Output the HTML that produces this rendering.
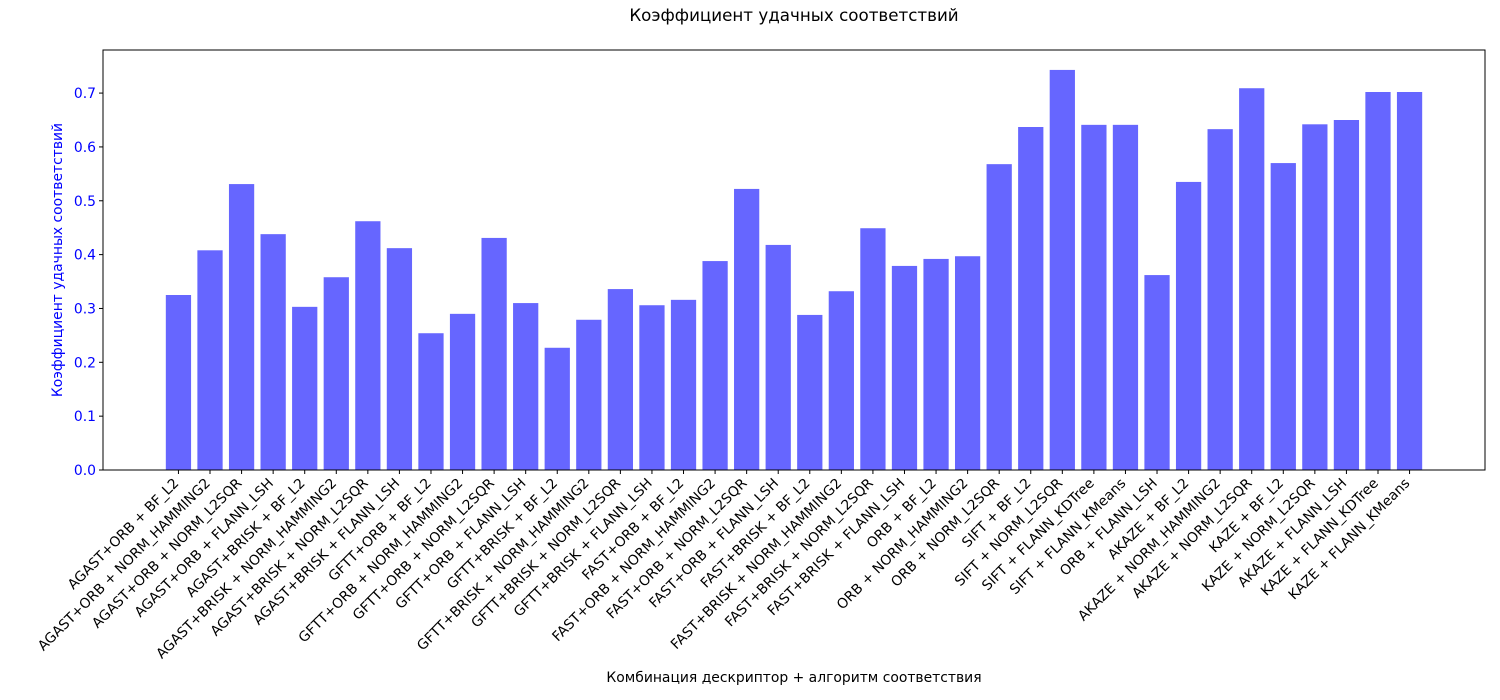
<!DOCTYPE html>
<html><head><meta charset="utf-8"><style>
html,body{margin:0;padding:0;background:#fff;}
svg{display:block;font-family:"DejaVu Sans","Liberation Sans",sans-serif;}
</style></head><body>
<svg id="chart" width="1500" height="700">
<text x="794" y="21" text-anchor="middle" font-size="16.7">Коэффициент удачных соответствий</text>
<text x="794" y="682" text-anchor="middle" font-size="13.9">Комбинация дескриптор + алгоритм соответствия</text>
<text transform="translate(62,260) rotate(-90)" text-anchor="middle" font-size="13.9" fill="#0000ff">Коэффициент удачных соответствий</text>
<g id="bars"></g><g id="yticks"></g><g id="xticks"></g>
<rect x="103" y="50" width="1382" height="420" fill="none" stroke="#000" stroke-width="1"/>
</svg>
<script>
const categories = ["AGAST+ORB + BF_L2","AGAST+ORB + NORM_HAMMING2","AGAST+ORB + NORM_L2SQR","AGAST+ORB + FLANN_LSH","AGAST+BRISK + BF_L2","AGAST+BRISK + NORM_HAMMING2","AGAST+BRISK + NORM_L2SQR","AGAST+BRISK + FLANN_LSH","GFTT+ORB + BF_L2","GFTT+ORB + NORM_HAMMING2","GFTT+ORB + NORM_L2SQR","GFTT+ORB + FLANN_LSH","GFTT+BRISK + BF_L2","GFTT+BRISK + NORM_HAMMING2","GFTT+BRISK + NORM_L2SQR","GFTT+BRISK + FLANN_LSH","FAST+ORB + BF_L2","FAST+ORB + NORM_HAMMING2","FAST+ORB + NORM_L2SQR","FAST+ORB + FLANN_LSH","FAST+BRISK + BF_L2","FAST+BRISK + NORM_HAMMING2","FAST+BRISK + NORM_L2SQR","FAST+BRISK + FLANN_LSH","ORB + BF_L2","ORB + NORM_HAMMING2","ORB + NORM_L2SQR","SIFT + BF_L2","SIFT + NORM_L2SQR","SIFT + FLANN_KDTree","SIFT + FLANN_KMeans","ORB + FLANN_LSH","AKAZE + BF_L2","AKAZE + NORM_HAMMING2","AKAZE + NORM_L2SQR","KAZE + BF_L2","KAZE + NORM_L2SQR","AKAZE + FLANN_LSH","KAZE + FLANN_KDTree","KAZE + FLANN_KMeans"];
const values = [0.325,0.408,0.531,0.438,0.303,0.358,0.462,0.412,0.254,0.290,0.431,0.310,0.227,0.279,0.336,0.306,0.316,0.388,0.522,0.418,0.288,0.332,0.449,0.379,0.392,0.397,0.568,0.637,0.743,0.641,0.641,0.362,0.535,0.633,0.709,0.570,0.642,0.650,0.702,0.702];
const yTicks = [0.0,0.1,0.2,0.3,0.4,0.5,0.6,0.7];
const NS="http://www.w3.org/2000/svg";
const X0=103,X1=1485,Y0=470,Y1=50;
const n=categories.length;
const lo=-0.4-0.05*(n-1+0.8), hi=n-1+0.4+0.05*(n-1+0.8);
const x=i=>X0+(i-lo)/(hi-lo)*(X1-X0);
const y=v=>Y0-v/(0.78)*(Y0-Y1);
const bw=0.8*(X1-X0)/(hi-lo);
const bars=document.getElementById('bars'),xt=document.getElementById('xticks'),yt=document.getElementById('yticks');
values.forEach((v,i)=>{
  const r=document.createElementNS(NS,'rect');
  r.setAttribute('x',x(i)-bw/2);r.setAttribute('y',y(v));r.setAttribute('width',bw);r.setAttribute('height',Y0-y(v));r.setAttribute('fill','#6666ff');
  
  
  bars.appendChild(r);
  const t=document.createElementNS(NS,'line');
  t.setAttribute('x1',x(i));t.setAttribute('x2',x(i));t.setAttribute('y1',Y0);t.setAttribute('y2',Y0+4);t.setAttribute('stroke','#000');
  
  
  xt.appendChild(t);
  const l=document.createElementNS(NS,'text');
  l.setAttribute('transform','translate('+(x(i)+1)+','+(Y0+14)+') rotate(-45)');
  l.setAttribute('text-anchor','end');l.setAttribute('font-size','13.9');
  l.textContent=categories[i];
  
  
  xt.appendChild(l);
});
yTicks.forEach(v=>{
  const t=document.createElementNS(NS,'line');
  t.setAttribute('x1',X0-4);t.setAttribute('x2',X0);t.setAttribute('y1',y(v));t.setAttribute('y2',y(v));t.setAttribute('stroke','#000');
  
  
  yt.appendChild(t);
  const l=document.createElementNS(NS,'text');
  l.setAttribute('x',X0-7);l.setAttribute('y',y(v)+5);l.setAttribute('text-anchor','end');l.setAttribute('font-size','13.9');l.setAttribute('fill','#0000ff');
  l.textContent=v.toFixed(1);
  
  
  yt.appendChild(l);
});
</script>
</body></html>
